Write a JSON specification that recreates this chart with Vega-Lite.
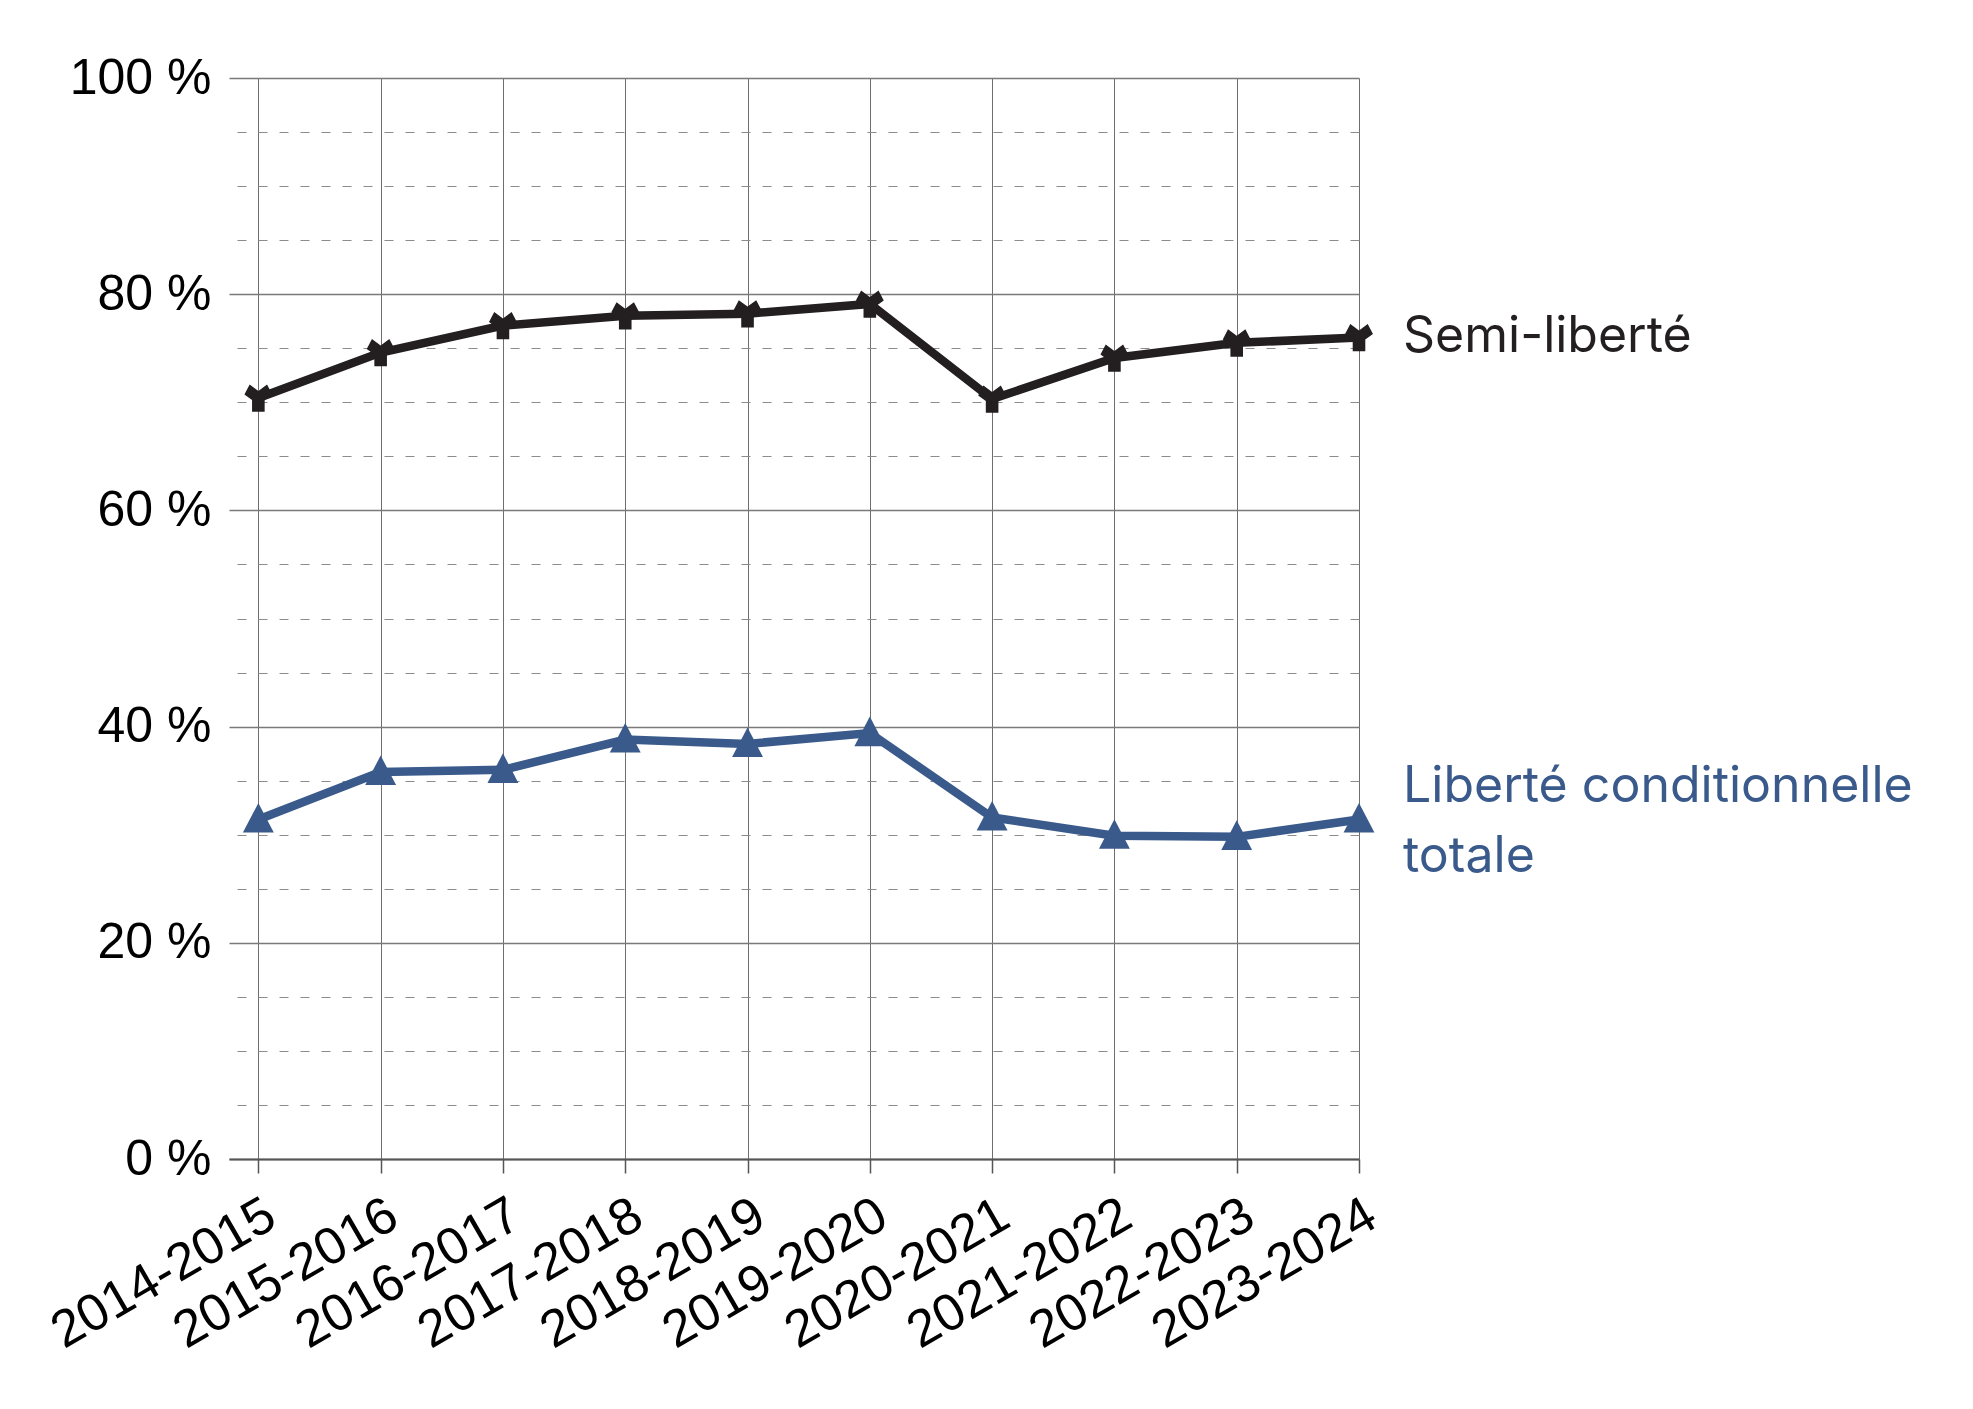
{
  "$schema": "https://vega.github.io/schema/vega-lite/v6.json",
  "width": 1130,
  "height": 1081,
  "autosize": "none",
  "padding": {"left": 229, "top": 78, "right": 614, "bottom": 250},
  "background": "white",
  "config": {"view": {"stroke": null}, "font": "Liberation Sans"},
  "datasets": {
    "main": [
      {"year": "2014-2015", "series": "Semi-liberté", "value": 70.4},
      {"year": "2015-2016", "series": "Semi-liberté", "value": 74.6},
      {"year": "2016-2017", "series": "Semi-liberté", "value": 77.1},
      {"year": "2017-2018", "series": "Semi-liberté", "value": 78.0},
      {"year": "2018-2019", "series": "Semi-liberté", "value": 78.2},
      {"year": "2019-2020", "series": "Semi-liberté", "value": 79.1},
      {"year": "2020-2021", "series": "Semi-liberté", "value": 70.3},
      {"year": "2021-2022", "series": "Semi-liberté", "value": 74.1},
      {"year": "2022-2023", "series": "Semi-liberté", "value": 75.5},
      {"year": "2023-2024", "series": "Semi-liberté", "value": 76.0},
      {"year": "2014-2015", "series": "Liberté conditionnelle totale", "value": 31.4},
      {"year": "2015-2016", "series": "Liberté conditionnelle totale", "value": 35.8},
      {"year": "2016-2017", "series": "Liberté conditionnelle totale", "value": 36.0},
      {"year": "2017-2018", "series": "Liberté conditionnelle totale", "value": 38.8},
      {"year": "2018-2019", "series": "Liberté conditionnelle totale", "value": 38.4},
      {"year": "2019-2020", "series": "Liberté conditionnelle totale", "value": 39.4},
      {"year": "2020-2021", "series": "Liberté conditionnelle totale", "value": 31.6},
      {"year": "2021-2022", "series": "Liberté conditionnelle totale", "value": 29.9},
      {"year": "2022-2023", "series": "Liberté conditionnelle totale", "value": 29.8},
      {"year": "2023-2024", "series": "Liberté conditionnelle totale", "value": 31.4}
    ],
    "labels": [
      {"series": "Semi-liberté", "label": ["Semi-liberté"]},
      {"series": "Liberté conditionnelle totale", "label": ["Liberté conditionnelle", "totale"]}
    ]
  },
  "data": {"name": "main"},
  "resolve": {"axis": {"y": "independent"}},
  "layer": [
    {
      "mark": {"type": "line", "strokeWidth": 8.5},
      "encoding": {
        "x": {
          "field": "year", "type": "ordinal",
          "scale": {"type": "point", "padding": 0.12, "align": 1},
          "axis": {
            "title": null, "labelAngle": -30, "labelFontSize": 52, "labelColor": "#000000",
            "labelFont": "Liberation Sans", "labelAlign": "right", "labelBaseline": "top",
            "labelPadding": 16, "labelLimit": 0,
            "grid": true, "gridColor": "#6e6e6e", "gridWidth": 1,
            "domainColor": "#555555", "domainWidth": 2,
            "tickColor": "#555555", "tickSize": 14, "tickWidth": 1.5
          }
        },
        "y": {
          "field": "value", "type": "quantitative",
          "scale": {"domain": [0, 100], "nice": false},
          "axis": {
            "title": null, "values": [0, 20, 40, 60, 80, 100],
            "labelExpr": "datum.value + ' %'", "labelFontSize": 50, "labelColor": "#000000",
            "labelFont": "Liberation Sans", "labelPadding": 18,
            "domain": false, "ticks": false,
            "grid": true, "gridColor": "#7a7a7a", "gridWidth": 1.5
          }
        },
        "color": {
          "field": "series", "type": "nominal", "legend": null,
          "scale": {"domain": ["Semi-liberté", "Liberté conditionnelle totale"], "range": ["#231f20", "#3a5a8c"]}
        }
      }
    },
    {
      "mark": {"type": "point", "filled": true, "opacity": 1},
      "encoding": {
        "x": {"field": "year", "type": "ordinal"},
        "y": {
          "field": "value", "type": "quantitative",
          "axis": {
            "orient": "right", "title": null, "labels": false, "ticks": false, "domain": false,
            "values": [5, 10, 15, 25, 30, 35, 45, 50, 55, 65, 70, 75, 85, 90, 95],
            "grid": true, "gridColor": "#8c8c8c", "gridWidth": 1.2, "gridDash": [9, 12]
          }
        },
        "color": {"field": "series", "type": "nominal", "legend": null},
        "shape": {
          "field": "series", "type": "nominal", "legend": null,
          "scale": {
            "domain": ["Semi-liberté", "Liberté conditionnelle totale"],
            "range": [
              "M-0.42,0.92 L-0.42,0.13 L-0.93,-0.23 L-0.58,-0.9 L0,-0.47 L0.58,-0.9 L0.93,-0.23 L0.42,0.13 L0.42,0.92 Z",
              "M0,-1.1 L1.03,0.87 L-1.03,0.87 Z"
            ]
          }
        },
        "size": {"value": 900}
      }
    },
    {
      "transform": [
        {"filter": "datum.year === '2023-2024' && datum.series === 'Semi-liberté'"},
        {"lookup": "series", "from": {"data": {"name": "labels"}, "key": "series", "fields": ["label"]}}
      ],
      "mark": {"type": "text", "align": "left", "baseline": "middle", "dx": 44, "dy": 0, "fontSize": 50, "font": "Inter", "lineHeight": 70},
      "encoding": {
        "x": {"field": "year", "type": "ordinal"},
        "y": {"field": "value", "type": "quantitative", "axis": null},
        "text": {"field": "label"},
        "color": {"field": "series", "type": "nominal", "legend": null}
      }
    },
    {
      "transform": [
        {"filter": "datum.year === '2023-2024' && datum.series === 'Liberté conditionnelle totale'"},
        {"lookup": "series", "from": {"data": {"name": "labels"}, "key": "series", "fields": ["label"]}}
      ],
      "mark": {"type": "text", "align": "left", "baseline": "middle", "dx": 44, "dy": -33, "fontSize": 50, "font": "Inter", "lineHeight": 70},
      "encoding": {
        "x": {"field": "year", "type": "ordinal"},
        "y": {"field": "value", "type": "quantitative", "axis": null},
        "text": {"field": "label"},
        "color": {"field": "series", "type": "nominal", "legend": null}
      }
    }
  ]
}
